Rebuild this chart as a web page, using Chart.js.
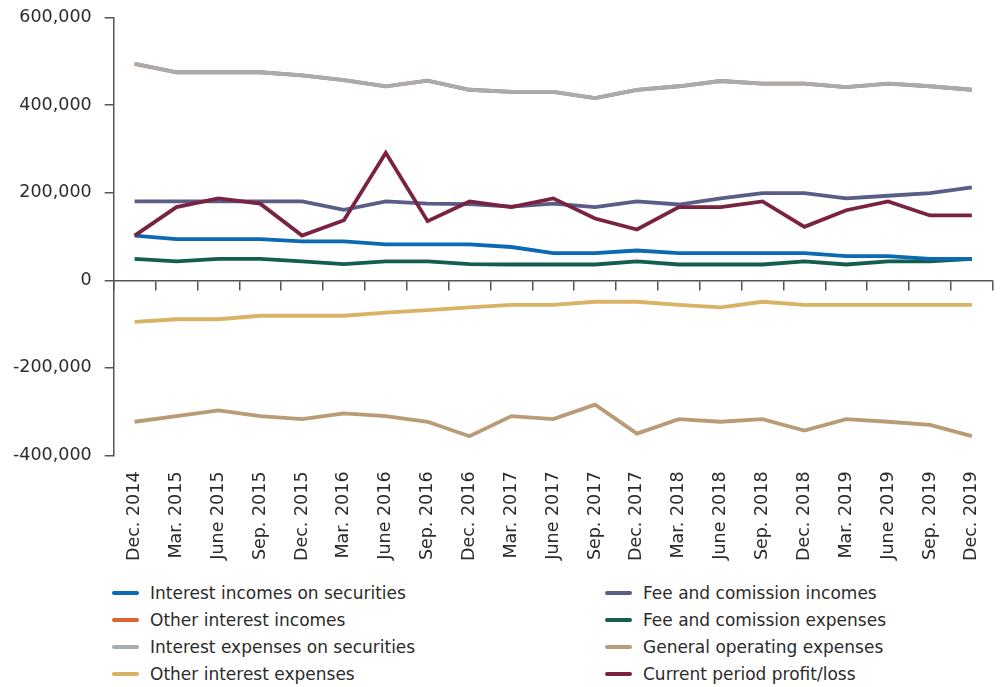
<!DOCTYPE html>
<html>
<head>
<meta charset="utf-8">
<script src="https://cdn.jsdelivr.net/npm/chart.js@4.4.1/dist/chart.umd.min.js"></script>
<style>
  body { margin: 0; background: #fff; font-family: "DejaVu Sans", sans-serif; }
  #wrap { position: absolute; left: 0; top: -6px; width: 1001px; height: 577px; }
  #legend { position: absolute; left: 112px; top: 581px; width: 880px; }
  .item { position: absolute; display: flex; align-items: center; font-size: 17px; color: #2b2b2b; white-space: nowrap; line-height: 24px; }
  .mark { width: 27px; height: 4px; border-radius: 2px; margin-right: 11px; }
</style>
</head>
<body>
<div id="wrap"><canvas id="chart"></canvas></div>
<div id="legend"></div>
<script>
const labels = ["Dec. 2014", "Mar. 2015", "June 2015", "Sep. 2015", "Dec. 2015", "Mar. 2016", "June 2016",
  "Sep. 2016", "Dec. 2016", "Mar. 2017", "June 2017", "Sep. 2017", "Dec. 2017", "Mar. 2018", "June 2018",
  "Sep. 2018", "Dec. 2018", "Mar. 2019", "June 2019", "Sep. 2019", "Dec. 2019"];

const interestIncomesSec = [102000, 94000, 94000, 94000, 89000, 89000, 82000, 82000, 82000, 76000, 62000,
  62000, 68000, 62000, 62000, 62000, 62000, 55000, 55000, 49000, 49000];
const otherInterestIncomes = [494000, 475000, 475000, 475000, 468000, 457000, 443000, 456000, 435000, 430000, 430000,
  416000, 435000, 443000, 455000, 449000, 449000, 441000, 449000, 443000, 435000];
const interestExpensesSec = [495000, 475000, 475000, 475000, 468000, 457000, 443000, 456000, 435000, 430000, 430000,
  416000, 435000, 443000, 455000, 449000, 449000, 441000, 449000, 443000, 435000];
const otherInterestExpenses = [-95000, -89000, -89000, -81000, -81000, -81000, -74000, -68000, -62000, -56000, -56000,
  -49000, -49000, -56000, -62000, -49000, -56000, -56000, -56000, -56000, -56000];
const feeIncomes = [180000, 180000, 180000, 180000, 180000, 161000, 180000, 175000, 174000, 168000, 175000,
  167000, 180000, 173000, 187000, 199000, 199000, 187000, 193000, 199000, 212000];
const feeExpenses = [49000, 43000, 49000, 49000, 43000, 37000, 43000, 43000, 37000, 36000, 36000,
  36000, 43000, 36000, 36000, 36000, 43000, 36000, 43000, 43000, 49000];
const operatingExpenses = [-323000, -310000, -297000, -310000, -317000, -304000, -310000, -323000, -356000, -310000, -317000,
  -284000, -350000, -317000, -323000, -317000, -343000, -317000, -323000, -330000, -356000];
const profitLoss = [102000, 167000, 187000, 175000, 102000, 137000, 291000, 135000, 180000, 167000, 187000,
  141000, 116000, 167000, 167000, 180000, 122000, 160000, 180000, 148000, 148000];

const yTicks = [-400000, -200000, 0, 200000, 400000, 600000];

// legend order: left column first, then right column
const series = [
  { label: "Interest incomes on securities", data: interestIncomesSec, color: "#0b6ab3", order: 1 },
  { label: "Other interest incomes", data: otherInterestIncomes, color: "#dc6530", order: 2 },
  { label: "Interest expenses on securities", data: interestExpensesSec, color: "#a6acaf", order: 0 },
  { label: "Other interest expenses", data: otherInterestExpenses, color: "#d9b265", order: 1 },
  { label: "Fee and comission incomes", data: feeIncomes, color: "#5a5d87", order: 1 },
  { label: "Fee and comission expenses", data: feeExpenses, color: "#135e4f", order: 1 },
  { label: "General operating expenses", data: operatingExpenses, color: "#b99b76", order: 1 },
  { label: "Current period profit/loss", data: profitLoss, color: "#7a2241", order: 0 }
];

const axisColor = "#555";
const textColor = "#2b2b2b";

new Chart(document.getElementById("chart"), {
  type: "line",
  data: {
    labels: labels,
    datasets: series.map(s => ({
      label: s.label,
      data: s.data,
      borderColor: s.color,
      backgroundColor: s.color,
      borderWidth: 3.8,
      pointRadius: 0,
      tension: 0,
      order: s.order
    }))
  },
  options: {
    responsive: true,
    maintainAspectRatio: false,
    animation: false,
    layout: { padding: { left: 0, right: 7, top: 0, bottom: 2 } },
    plugins: { legend: { display: false }, tooltip: { enabled: false } },
    scales: {
      x: {
        offset: true,
        border: { display: false },
        grid: { display: false },
        ticks: {
          minRotation: 90, maxRotation: 90, autoSkip: false, padding: 8,
          color: textColor, font: { family: "DejaVu Sans", size: 17.5 }
        }
      },
      x2: {
        type: "category",
        position: { y: 0 },
        offset: true,
        border: { display: true, color: axisColor, width: 1.5 },
        grid: { offset: true, drawOnChartArea: false, drawTicks: true, tickLength: 9, color: axisColor, lineWidth: 1.5 },
        ticks: { display: false }
      },
      y: {
        min: -400000,
        max: 600000,
        afterBuildTicks: axis => { axis.ticks = yTicks.map(v => ({ value: v })); },
        border: { display: true, color: axisColor, width: 1.5 },
        grid: { drawOnChartArea: false, drawTicks: true, tickLength: 9, color: axisColor, lineWidth: 1.5 },
        ticks: {
          padding: 13, color: textColor, font: { family: "DejaVu Sans", size: 17.5 },
          callback: v => v.toLocaleString("en-US")
        }
      }
    }
  }
});

// two-column legend below the chart
const legend = document.getElementById("legend");
series.forEach((s, i) => {
  const item = document.createElement("div");
  item.className = "item";
  item.style.left = (i < 4 ? 0 : 493) + "px";
  item.style.top = ((i % 4) * 27) + "px";
  item.innerHTML = '<span class="mark" style="background:' + s.color + '"></span>' + s.label;
  legend.appendChild(item);
});
</script>
</body>
</html>
